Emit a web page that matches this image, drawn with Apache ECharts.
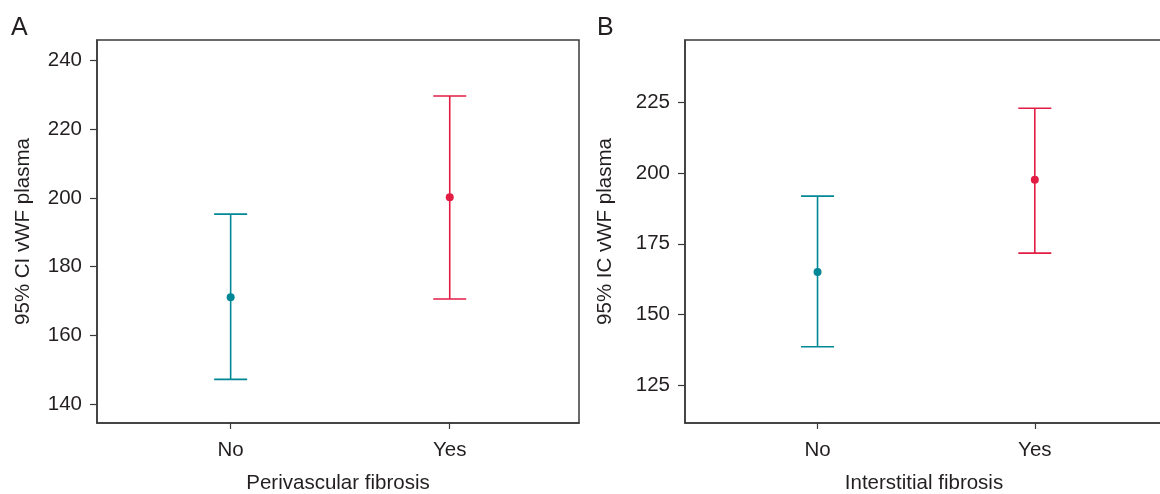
<!DOCTYPE html>
<html>
<head>
<meta charset="utf-8">
<script src="https://cdn.jsdelivr.net/npm/echarts@6/dist/echarts.min.js"></script>
<style>
html,body{margin:0;padding:0;background:#fff;}
#chart{width:1160px;height:494px;}
</style>
</head>
<body>
<div id="chart"></div>
<script>
// ---- data ----
const categories = ['No', 'Yes'];
const colors = ['#008795', '#E31C44'];

// Panel A: Perivascular fibrosis
const meanA = [171.1, 200.2];
const lowerA = [147.2, 170.6];
const upperA = [195.3, 229.7];
const ticksA = [140, 160, 180, 200, 220, 240];

// Panel B: Interstitial fibrosis
const meanB = [165.0, 197.7];
const lowerB = [138.5, 171.7];
const upperB = [191.9, 223.0];
const ticksB = [125, 150, 175, 200, 225];

const panelLetters = ['A', 'B'];
const xTitles = ['Perivascular fibrosis', 'Interstitial fibrosis'];
const yTitles = ['95% CI vWF plasma', '95% IC vWF plasma'];

const FONT = '"Liberation Sans", Arial, Helvetica, sans-serif';
const TXT = '#231f20';
const AX = '#3a3a3a';
const FS = 20.5;

function errData(lo, hi) {
  return categories.map((c, i) => [i + 1, lo[i], hi[i]]);
}
function ptData(m) {
  return categories.map((c, i) => ({ value: [i + 1, m[i]], itemStyle: { color: colors[i], opacity: 1 } }));
}
function errRender(params, api) {
  const x = api.value(0);
  const lo = api.coord([x, api.value(1)]);
  const hi = api.coord([x, api.value(2)]);
  const hw = 16.5;
  const col = colors[params.dataIndex];
  const st = { stroke: col, lineWidth: 1.6 };
  return {
    type: 'group',
    children: [
      { type: 'line', shape: { x1: lo[0], y1: lo[1], x2: hi[0], y2: hi[1] }, style: st },
      { type: 'line', shape: { x1: hi[0] - hw, y1: hi[1], x2: hi[0] + hw, y2: hi[1] }, style: st },
      { type: 'line', shape: { x1: lo[0] - hw, y1: lo[1], x2: lo[0] + hw, y2: lo[1] }, style: st }
    ]
  };
}

function xAxisCfg(gi, title) {
  return {
    type: 'value', gridIndex: gi, min: 0.39, max: 2.59,
    name: title, nameLocation: 'middle', nameGap: 50,
    nameTextStyle: { fontFamily: FONT, fontSize: FS, color: TXT },
    axisLine: { show: true, lineStyle: { color: AX, width: 1.5 } },
    axisTick: { show: true, length: 6, lineStyle: { color: AX, width: 1.2 }, customValues: [1, 2] },
    axisLabel: {
      fontFamily: FONT, fontSize: FS, color: TXT, margin: 17,
      customValues: [1, 2],
      formatter: v => categories[Math.round(v) - 1] || ''
    },
    splitLine: { show: false }
  };
}
function yAxisCfg(gi, title, ticks, min, max, gap) {
  return {
    type: 'value', gridIndex: gi, min: min, max: max,
    name: title, nameLocation: 'middle', nameGap: gap, nameRotate: 90,
    nameTextStyle: { fontFamily: FONT, fontSize: FS, color: TXT },
    axisLine: { show: true, lineStyle: { color: AX, width: 1.5 } },
    axisTick: { show: true, length: 7, lineStyle: { color: AX, width: 1.2 }, customValues: ticks },
    axisLabel: { fontFamily: FONT, fontSize: FS, color: TXT, margin: 15, customValues: ticks },
    splitLine: { show: false }
  };
}

const chart = echarts.init(document.getElementById('chart'), null, { renderer: 'canvas' });
chart.setOption({
  backgroundColor: '#ffffff',
  animation: false,
  title: [
    { text: panelLetters[0], left: 6, top: 11, textStyle: { fontFamily: FONT, fontSize: 25, fontWeight: 'normal', color: TXT } },
    { text: panelLetters[1], left: 592, top: 11, textStyle: { fontFamily: FONT, fontSize: 25, fontWeight: 'normal', color: TXT } }
  ],
  grid: [
    { left: 97, top: 40, width: 482, height: 383, outerBoundsMode: 'none', containLabel: false, show: true, borderColor: AX, borderWidth: 1.5, backgroundColor: 'transparent' },
    { left: 685, top: 40, width: 478, height: 383, outerBoundsMode: 'none', containLabel: false, show: true, borderColor: AX, borderWidth: 1.5, backgroundColor: 'transparent' }
  ],
  xAxis: [xAxisCfg(0, xTitles[0]), xAxisCfg(1, xTitles[1])],
  yAxis: [
    yAxisCfg(0, yTitles[0], ticksA, 134.5, 246, 63),
    yAxisCfg(1, yTitles[1], ticksB, 111.5, 247.2, 69)
  ],
  series: [
    { type: 'custom', xAxisIndex: 0, yAxisIndex: 0, renderItem: errRender, data: errData(lowerA, upperA), z: 2 },
    { type: 'scatter', xAxisIndex: 0, yAxisIndex: 0, symbolSize: 8, data: ptData(meanA), z: 3 },
    { type: 'custom', xAxisIndex: 1, yAxisIndex: 1, renderItem: errRender, data: errData(lowerB, upperB), z: 2 },
    { type: 'scatter', xAxisIndex: 1, yAxisIndex: 1, symbolSize: 8, data: ptData(meanB), z: 3 }
  ]
});
</script>
</body>
</html>
